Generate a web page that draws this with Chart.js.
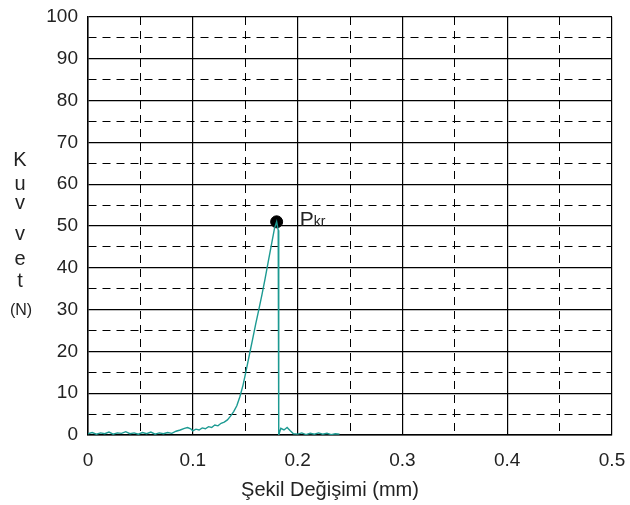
<!DOCTYPE html>
<html>
<head>
<meta charset="utf-8">
<script src="https://cdn.jsdelivr.net/npm/chart.js@4/dist/chart.umd.min.js"></script>
<style>
  body { margin: 0; background: #fff; }
  #wrap { width: 630px; height: 505px; }
</style>
</head>
<body>
<div id="wrap"><canvas id="chart" width="630" height="505"></canvas></div>
<script>
// --- data ---
const deformation = [
  0.000, 0.004, 0.008, 0.012, 0.016, 0.020, 0.024, 0.028, 0.032, 0.036,
  0.040, 0.044, 0.048, 0.052, 0.056, 0.060, 0.064, 0.068, 0.072, 0.076,
  0.080, 0.084, 0.088, 0.092, 0.095, 0.098, 0.100, 0.103, 0.106, 0.109,
  0.112, 0.115, 0.118, 0.121, 0.124, 0.127, 0.130, 0.133, 0.136, 0.139,
  0.142, 0.145, 0.148, 0.151, 0.154, 0.157, 0.160, 0.163, 0.166, 0.169,
  0.172, 0.175, 0.178, 0.180, 0.1815, 0.182, 0.184, 0.187, 0.190, 0.193,
  0.196, 0.200, 0.204, 0.208, 0.212, 0.216, 0.220, 0.224, 0.228, 0.232,
  0.236, 0.240
];
const force = [
  0.3, 0.6, 0.2, 0.5, 0.3, 0.7, 0.2, 0.5, 0.4, 0.8,
  0.3, 0.5, 0.2, 0.6, 0.3, 0.7, 0.2, 0.5, 0.3, 0.6,
  0.4, 0.9, 1.2, 1.6, 1.8, 1.5, 1.0, 1.4, 1.2, 1.7,
  1.5, 2.0, 1.8, 2.4, 2.2, 2.8, 3.1, 3.6, 4.5, 5.6,
  7.0, 9.2, 12.0, 15.5, 19.2, 22.8, 26.5, 30.0, 33.6, 37.4,
  41.5, 45.5, 49.5, 51.0, 49.0, 0.0, 1.6, 1.2, 1.8, 1.0,
  0.3, 0.2, 0.5, 0.1, 0.4, 0.2, 0.5, 0.2, 0.4, 0.1,
  0.3, 0.2
];
const peakX = [0.18];
const peakY = [51];
const peakLabel = ['P', 'kr'];
const yTitle = ['K', 'u', 'v', 'v', 'e', 't', '(N)'];
const xTitle = 'Şekil Değişimi (mm)';

const FONT = "'Liberation Sans', Arial, sans-serif";
const isMajorX = v => Math.round(v * 100) % 10 === 0;
const isMajorY = v => Math.round(v) % 10 === 0;

// axis titles and the P_kr label
const textPlugin = {
  id: 'texts',
  afterDraw(chart) {
    const c = chart.ctx;
    const xs = chart.scales.x, ys = chart.scales.y;
    c.save();
    c.fillStyle = '#222';
    c.textAlign = 'center';
    c.textBaseline = 'middle';
    c.font = '20px ' + FONT;
    const yPos = [160, 184, 203, 234, 259, 281];
    yTitle.forEach((t, i) => {
      if (t === '(N)') {
        c.font = '16px ' + FONT;
        c.fillText(t, 21, 311);
      } else {
        c.fillText(t, 20, yPos[i]);
      }
    });
    c.font = '20px ' + FONT;
    c.fillText(xTitle, 330, 490);

    const px = xs.getPixelForValue(peakX[0]);
    const py = ys.getPixelForValue(peakY[0]);
    c.textAlign = 'left';
    c.textBaseline = 'alphabetic';
    c.font = '21px ' + FONT;
    c.fillText(peakLabel[0], px + 23, py + 4);
    const w = c.measureText(peakLabel[0]).width;
    c.font = '14px ' + FONT;
    c.fillText(peakLabel[1], px + 23 + w, py + 4);
    c.restore();
  }
};

new Chart(document.getElementById('chart'), {
  type: 'line',
  data: {
    datasets: [
      {
        data: deformation.map((x, i) => ({ x: x, y: force[i] })),
        borderColor: '#1c9a92',
        borderWidth: 1.4,
        pointRadius: 0,
        tension: 0
      },
      {
        data: peakX.map((x, i) => ({ x: x, y: peakY[i] })),
        showLine: false,
        pointRadius: 6,
        pointBackgroundColor: '#000',
        pointBorderColor: '#000'
      }
    ]
  },
  options: {
    responsive: false,
    animation: false,
    layout: { padding: { top: 17, right: 18, bottom: 0, left: 0 } },
    plugins: { legend: { display: false }, tooltip: { enabled: false } },
    scales: {
      x: {
        type: 'linear',
        min: 0,
        max: 0.5,
        afterFit: s => { s.height = 70; s.paddingLeft = 0; s.paddingRight = 0; },
        ticks: {
          stepSize: 0.05,
          autoSkip: false,
          maxRotation: 0,
          padding: 14,
          color: '#222',
          font: { family: FONT, size: 19 },
          callback: v => isMajorX(v) ? String(Math.round(v * 10) / 10) : ''
        },
        grid: {
          drawTicks: false,
          color: '#000',
          lineWidth: ctx => (ctx.tick && isMajorX(ctx.tick.value)) ? 1.2 : 1
        },
        border: {
          color: '#000',
          width: 1.5,
          dash: ctx => (ctx.tick && !isMajorX(ctx.tick.value)) ? [8, 6] : []
        }
      },
      y: {
        min: 0,
        max: 100,
        afterFit: s => { s.width = 88; s.paddingTop = 0; s.paddingBottom = 0; },
        ticks: {
          stepSize: 5,
          autoSkip: false,
          padding: 10,
          color: '#222',
          font: { family: FONT, size: 19 },
          callback: v => isMajorY(v) ? String(v) : ''
        },
        grid: {
          drawTicks: false,
          color: '#000',
          lineWidth: ctx => (ctx.tick && isMajorY(ctx.tick.value)) ? 1.2 : 1
        },
        border: {
          color: '#000',
          width: 1.5,
          dash: ctx => (ctx.tick && !isMajorY(ctx.tick.value)) ? [8, 6] : []
        }
      }
    }
  },
  plugins: [textPlugin]
});
</script>
</body>
</html>
